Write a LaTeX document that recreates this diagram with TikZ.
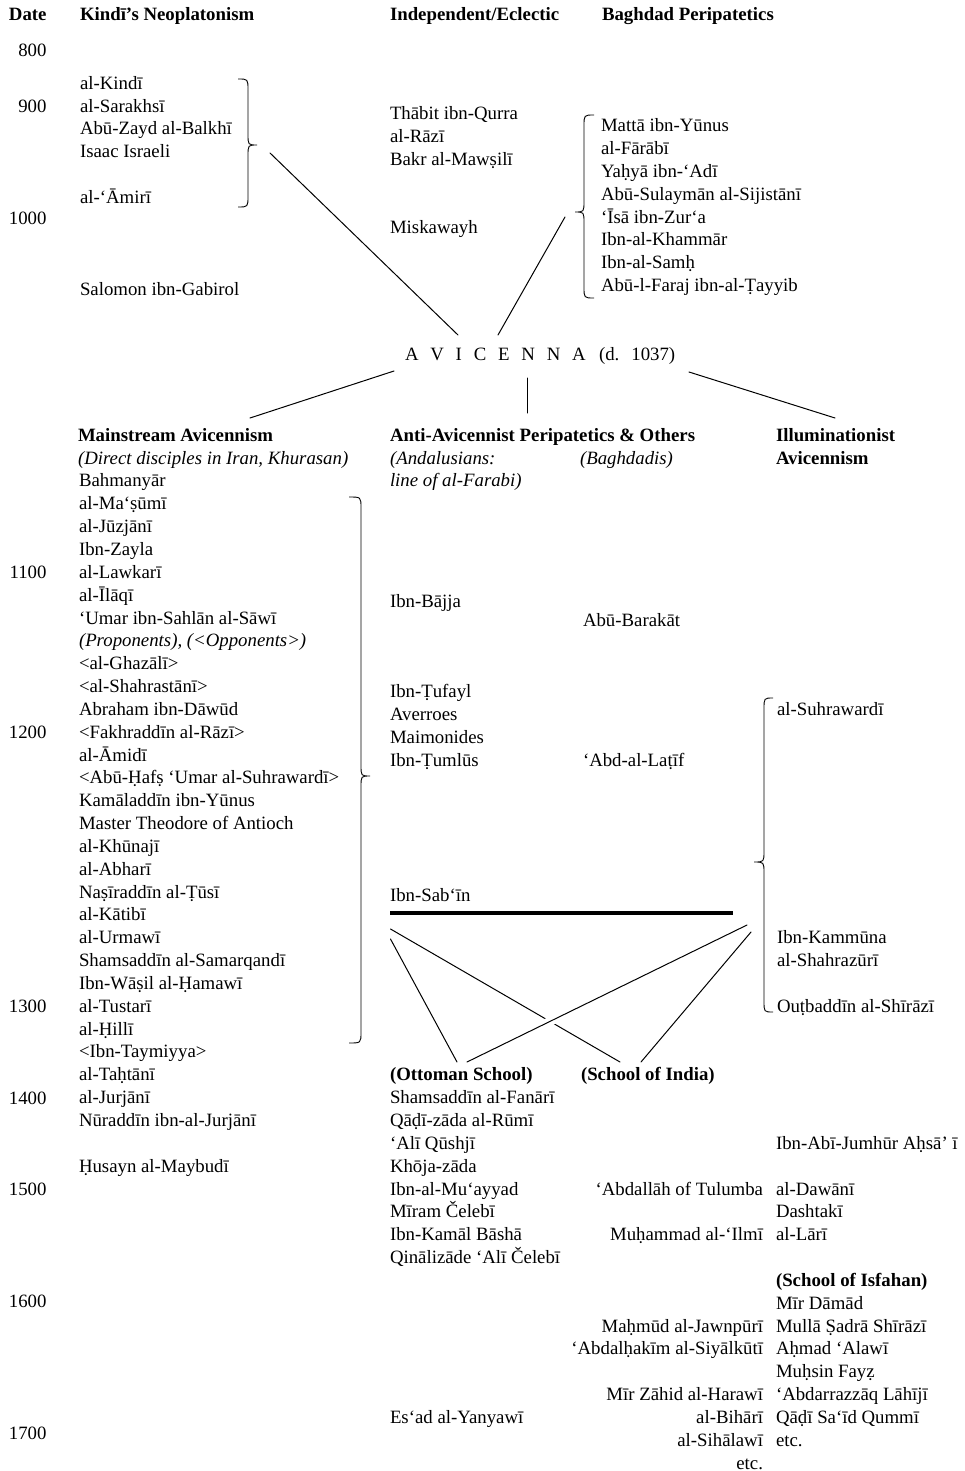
\documentclass[tikz,border=0pt]{standalone}
\usepackage{fontspec}
\setmainfont{Liberation Serif}
\newcommand\mybrace[6]{%
  \draw[bracestyle] (#1,#4) .. controls (#2,#4) .. (#2,{#4+11})
    -- (#2,{#5-11}) .. controls (#2,#5) .. (#3,#5)
    .. controls (#2,#5) .. (#2,{#5+11})
    -- (#2,{#6-11}) .. controls (#2,#6) .. (#1,#6);}
\begin{document}
\begin{tikzpicture}[x=1pt,y=-1pt,
  declare function={rowy(\r)=441.3+22.84*\r;},
  txt/.style={inner sep=0pt,outer sep=0pt,anchor=base west,font=\fontsize{18.8}{22.84}\selectfont},
  every node/.style={txt},
  hd/.style={font=\fontsize{18.8}{22.84}\selectfont\bfseries},
  it/.style={font=\fontsize{18.8}{22.84}\selectfont\itshape},
  rt/.style={anchor=base east},
  conn/.style={line width=1pt,line cap=round},
  heavyrule/.style={line width=3.8pt},
  bracestyle/.style={line width=0.9pt}]
\fill[white] (0,0) rectangle (965,1471);
\useasboundingbox (0,0) rectangle (965,1471);

% ---------- headers ----------
\node[hd] (hDate) at (9,21) {Date};
\node[hd] (hKindi) at (80,21) {Kindī’s Neoplatonism};
\node[hd] (hIndep) at (390,21) {Independent/Eclectic};
\node[hd] (hBagh) at (602,21) {Baghdad Peripatetics};

% ---------- dates ----------
\foreach \d/\y in {800/57,900/113,1000/225,1100/578.4,1200/738.3,1300/1012.3,1400/1104,1500/1195,1600/1307,1700/1439}
  {\node[rt] (d\d) at (46.5,\y) {\d};}

% ---------- Kindi's Neoplatonism ----------
\foreach \y/\t [count=\i] in {89.5/al-Kindī, 112.3/al-Sarakhsī, 135/Abū-Zayd al-Balkhī, 157.6/Isaac Israeli, 203.5/al-‘Āmirī, 295/Salomon ibn-Gabirol}
  {\node (k\i) at (80,\y) {\t};}
\mybrace{238}{248}{257}{79}{145}{207}

% ---------- Independent ----------
\foreach \y/\t [count=\i] in {120/Thābit ibn-Qurra, 142.8/al-Rāzī, 165.6/Bakr al-Mawṣilī, 233.5/Miskawayh}
  {\node (ie\i) at (390,\y) {\t};}

% ---------- Baghdad ----------
\foreach \t [count=\i from 0] in {Mattā ibn-Yūnus, al-Fārābī, Yaḥyā ibn-‘Adī, Abū-Sulaymān al-Sijistānī, ‘Īsā ibn-Zur‘a, Ibn-al-Khammār, Ibn-al-Samḥ, Abū-l-Faraj ibn-al-Ṭayyib}
  {\node (b\i) at (601,{131.7+22.84*\i}) {\t};}
\mybrace{594}{584}{575}{115}{212}{298}

% ---------- Avicenna ----------
\node (avicenna) at (405,360) {A\kern11.8pt V\kern11.8pt I\kern11.8pt C\kern11.8pt E\kern11.8pt N\kern11.8pt N\kern11.8pt A};
\node (avdate) at (599,360) {(d.\kern12pt 1037)};
\coordinate (kindiTip) at (270,153);
\coordinate (baghTip) at (565,217);
\coordinate (avTopL) at (458,335);
\coordinate (avTopR) at (498,335);
\coordinate (avBotL) at (394,371);
\coordinate (avBotM) at (527,378);
\coordinate (avBotR) at (689,372);
\coordinate (mainTop) at (250,418);
\coordinate (antiTop) at (527,413);
\coordinate (illTop) at (835,418);
\draw[conn] (kindiTip) -- (avTopL);
\draw[conn] (baghTip) -- (avTopR);
\draw[conn] (avBotL) -- (mainTop);
\draw[conn] (avBotM) -- (antiTop);
\draw[conn] (avBotR) -- (illTop);

% ---------- second headers ----------
\node[hd] (hMain) at (78,{rowy(0)}) {Mainstream Avicennism};
\node[it] (hMainSub) at (78,{rowy(1)}) {(Direct disciples in Iran, Khurasan)};
\node[hd] (hAnti) at (390,{rowy(0)}) {Anti-Avicennist Peripatetics \& Others};
\node[it] (hAnda) at (390,{rowy(1)}) {(Andalusians:};
\node[it] (hAnda2) at (390,{rowy(2)}) {line of al-Farabi)};
\node[it] (hBaghd) at (580,{rowy(1)}) {(Baghdadis)};
\node[hd] (hIll) at (776,{rowy(0)}) {Illuminationist};
\node[hd] (hIll2) at (776,{rowy(1)}) {Avicennism};

% ---------- Mainstream list ----------
\foreach \t [count=\i from 2] in {Bahmanyār, al-Ma‘ṣūmī, al-Jūzjānī, Ibn-Zayla, al-Lawkarī, al-Īlāqī, ‘Umar ibn-Sahlān al-Sāwī, {\itshape (Proponents), (<Opponents>)}, <al-Ghazālī>, <al-Shahrastānī>, Abraham ibn-Dāwūd, <Fakhraddīn al-Rāzī>, al-Āmidī, <Abū-Ḥafṣ ‘Umar al-Suhrawardī>, Kamāladdīn ibn-Yūnus, Master Theodore of Antioch, al-Khūnajī, al-Abharī, Naṣīraddīn al-Ṭūsī, al-Kātibī, al-Urmawī, Shamsaddīn al-Samarqandī, Ibn-Wāṣil al-Ḥamawī, al-Tustarī, al-Ḥillī, <Ibn-Taymiyya>, al-Taḥtānī, al-Jurjānī, Nūraddīn ibn-al-Jurjānī}
  {\node (m\i) at (79,{rowy(\i)}) {\t};}
\node (m32) at (79,{rowy(32)}) {Ḥusayn al-Maybudī};
\mybrace{349}{361}{370}{497}{776}{1043}

% ---------- Anti-Avicennist ----------
\foreach \y/\t [count=\i] in {607/Ibn-Bājja, 697/Ibn-Ṭufayl, 720/Averroes, 743/Maimonides, 766/Ibn-Ṭumlūs, 901/Ibn-Sab‘īn}
  {\node (an\i) at (390,\y) {\t};}
\node (bg1) at (583,626) {Abū-Barakāt};
\node (bg2) at (583,766) {‘Abd-al-Laṭīf};
\coordinate (ruleL) at (390,913);
\coordinate (ruleR) at (733,913);
\draw[heavyrule] (ruleL) -- (ruleR);

% ---------- Illuminationist ----------
\foreach \r/\t in {12/al-Suhrawardī, 22/Ibn-Kammūna, 23/al-Shahrazūrī, 25/Ouṭbaddīn al-Shīrāzī}
  {\node (il\r) at (777,{rowy(\r)}) {\t};}
\mybrace{773}{764}{754}{698}{862}{1012}

% ---------- later schools ----------
\node[hd] (hOtt) at (390,{rowy(28)}) {(Ottoman School)};
\node[hd] (hInd) at (581,{rowy(28)}) {(School of India)};
\coordinate (aTop) at (390.5,929);
\coordinate (bTop) at (390.5,939);
\coordinate (cTop) at (747,925);
\coordinate (dTop) at (751,932);
\coordinate (ottL) at (457,1062);
\coordinate (ottR) at (467,1062);
\coordinate (indL) at (620,1062);
\coordinate (indR) at (641,1062);
\draw[conn] (aTop) -- (indL);
\draw[conn] (bTop) -- (ottL);
\draw[conn,preaction={draw=white,line width=9pt,shorten <=40pt,shorten >=40pt}] (cTop) -- (ottR);
\draw[conn] (dTop) -- (indR);

\foreach \r/\t in {29/Shamsaddīn al-Fanārī, 30/Qāḍī-zāda al-Rūmī, 31/‘Alī Qūshjī, 32/Khōja-zāda, 33/Ibn-al-Mu‘ayyad, 34/Mīram Čelebī, 35/Ibn-Kamāl Bāshā, 36/Qinālizāde ‘Alī Čelebī, 43/Es‘ad al-Yanyawī}
  {\node (o\r) at (390,{rowy(\r)}) {\t};}
\foreach \r/\t in {33/‘Abdallāh of Tulumba, 35/Muḥammad al-‘Ilmī, 39/Maḥmūd al-Jawnpūrī, 40/‘Abdalḥakīm al-Siyālkūtī, 42/Mīr Zāhid al-Harawī, 43/al-Bihārī, 44/al-Sihālawī, 45/etc.}
  {\node[rt] (in\r) at (763,{rowy(\r)}) {\t};}
\foreach \r/\t in {31/Ibn-Abī-Jumhūr Aḥsā’ ī, 33/al-Dawānī, 34/Dashtakī, 35/al-Lārī, 38/Mīr Dāmād, 39/Mullā Ṣadrā Shīrāzī, 40/Aḥmad ‘Alawī, 41/Muḥsin Fayẓ, 42/‘Abdarrazzāq Lāhījī, 43/Qāḍī Sa‘īd Qummī, 44/etc.}
  {\node (r\r) at (776,{rowy(\r)}) {\t};}
\node[hd] (hIsf) at (776,{rowy(37)}) {(School of Isfahan)};
\end{tikzpicture}
\end{document}
